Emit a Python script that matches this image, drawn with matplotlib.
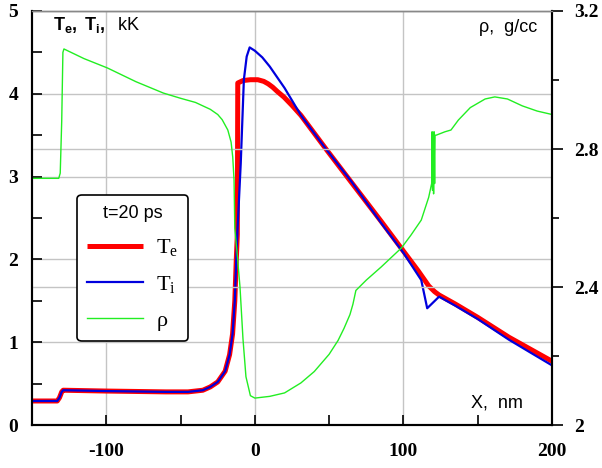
import numpy as np
import matplotlib
matplotlib.use("Agg")
import matplotlib.pyplot as plt
from matplotlib.ticker import MultipleLocator, FixedLocator

plt.rcParams['mathtext.fontset'] = 'custom'
plt.rcParams['mathtext.rm'] = 'Liberation Serif'
plt.rcParams['mathtext.it'] = 'Liberation Serif'
plt.rcParams['mathtext.bf'] = 'Liberation Sans:bold'
plt.rcParams['mathtext.sf'] = 'Liberation Sans'

# electron temperature, kK
x_te = [-150, -133, -131.5, -130, -129, -100, -60, -45, -35, -30, -25, -20, -17, -15,
        -13.5, -12.5, -11.8, -11.5, -8, -3, 2, 6, 9, 12, 15, 19.6, 25, 31, 48, 65, 85, 100,
        110, 117, 121, 124, 135, 150, 171, 185, 200]
te = [0.29, 0.29, 0.33, 0.40, 0.42, 0.41, 0.40, 0.40, 0.42, 0.46, 0.52, 0.65, 0.85, 1.1,
      1.5, 2.0, 2.3, 4.13, 4.16, 4.17, 4.17, 4.15, 4.12, 4.08, 4.03, 3.96, 3.86, 3.74, 3.33,
      2.93, 2.46, 2.10, 1.86, 1.68, 1.61, 1.57, 1.46, 1.30, 1.06, 0.92, 0.77]

# ion temperature, kK
x_ti = [-150, -133, -131.5, -130, -129, -100, -60, -45, -35, -30, -25, -20, -17, -15,
        -13.5, -12.5, -11.7, -9.5, -7.4, -5.5, -3.5, 0, 5, 10, 20, 31, 48, 65, 85, 100,
        112, 116, 124, 135, 150, 171, 185, 200]
ti = [0.29, 0.29, 0.33, 0.40, 0.42, 0.41, 0.40, 0.40, 0.42, 0.46, 0.52, 0.65, 0.85, 1.1,
      1.5, 2.0, 2.35, 3.16, 4.17, 4.45, 4.56, 4.52, 4.44, 4.33, 4.07, 3.74, 3.33, 2.94, 2.44,
      2.08, 1.75, 1.41, 1.55, 1.44, 1.28, 1.03, 0.88, 0.72]

# density, g/cc
x_rho = [-150, -132, -131, -130, -129.2, -128.5, -115, -99.3, -80, -61.5, -50, -40, -30, -25,
         -22, -18.2, -16, -14.9, -14, -13.5, -12, -10, -8, -6, -3, 0, 10, 20, 31, 40, 50, 56,
         60, 64, 66, 68, 75, 85, 98.6, 105, 112, 117, 119, 119.3, 119.6, 120, 120.3, 120.6,
         121, 121.3, 122, 125, 128, 132, 137, 145, 155, 161.5, 170, 180, 190, 200]
rho = [2.715, 2.715, 2.73, 2.88, 3.08, 3.09, 3.062, 3.035, 2.995, 2.962, 2.947, 2.935, 2.915,
       2.90, 2.885, 2.855, 2.82, 2.777, 2.71, 2.57, 2.50, 2.40, 2.25, 2.14, 2.085, 2.078,
       2.083, 2.093, 2.122, 2.155, 2.205, 2.245, 2.28, 2.32, 2.35, 2.39, 2.42, 2.458, 2.513,
       2.55, 2.594, 2.66, 2.70, 2.85, 2.68, 2.84, 2.67, 2.85, 2.70, 2.84, 2.84, 2.845, 2.85,
       2.855, 2.884, 2.92, 2.945, 2.951, 2.945, 2.925, 2.91, 2.90]

fig = plt.figure(figsize=(6.02, 4.68), dpi=100)
ax = fig.add_axes([32 / 602, 43 / 468, 520 / 602, 414 / 468])
ax2 = ax.twinx()

grid_c = '#c4c4c4'
for yv in range(0, 6):
    ax.axhline(yv, color=grid_c, lw=1, zorder=0)
for xv in [-100, 0, 100]:
    ax.axvline(xv, color=grid_c, lw=1, zorder=0)
for rv in [2.4, 2.8]:
    ax2.axhline(rv, color=grid_c, lw=1, zorder=0)

l_te, = ax.plot(x_te, te, color='#ff0000', lw=3.6, solid_capstyle='butt', zorder=3)
l_ti, = ax.plot(x_ti, ti, color='#0000dd', lw=1.6, zorder=4)
l_rho, = ax2.plot(x_rho, rho, color='#22ee22', lw=1.0, zorder=2)

ax.set_xlim(-150, 200)
ax.set_ylim(0, 5)
ax2.set_ylim(2, 3.2)

tick_font = dict(family='Liberation Serif', weight='bold', size=14)
ax.xaxis.set_minor_locator(MultipleLocator(50))
ax.yaxis.set_minor_locator(MultipleLocator(0.5))
ax.set_xticks([-100, 0, 100, 200])
ax.set_xticklabels(['-100', '0', '100', '200'], **tick_font)
ax.set_yticks([0, 1, 2, 3, 4, 5])
ax.set_yticklabels(['0', '1', '2', '3', '4', '5'], **tick_font)
ax.tick_params(axis='both', which='both', direction='in', length=7, width=1.2)
ax.tick_params(axis='x', pad=13)
ax.tick_params(axis='y', pad=10)

ax2.set_yticks([2, 2.4, 2.8, 3.2])
ax2.set_yticklabels(['2', '2.4', '2.8', '3.2'], **tick_font)
ax2.yaxis.set_minor_locator(FixedLocator([2.2, 2.6, 3.0]))
ax2.tick_params(axis='y', which='major', direction='out', length=8, width=1.2, pad=8)
ax2.tick_params(axis='y', which='minor', direction='out', length=5, width=1.2)

for a in (ax, ax2):
    for s in ['left', 'bottom', 'right']:
        a.spines[s].set_linewidth(1.5)
    a.spines['top'].set_color('#888888')
    a.spines['top'].set_linewidth(1.0)

ax.text(0.04, 0.966, r'$\mathbf{T_e,\ T_i,}$  kK', transform=ax.transAxes,
        fontsize=13, family='Liberation Sans', va='center', ha='left')
ax.text(0.971, 0.959, 'ρ,  g/cc', transform=ax.transAxes, fontsize=13,
        family='Liberation Sans', va='center', ha='right')
ax.text(0.944, 0.053, 'X,  nm', transform=ax.transAxes, fontsize=13,
        family='Liberation Sans', va='center', ha='right')

leg = ax2.legend([l_te, l_ti, l_rho], [r'$\mathrm{T_e}$', r'$\mathrm{T_i}$', 'ρ'],
                 title='t=20 ps', loc='upper left', bbox_to_anchor=(0.087, 0.556),
                 borderaxespad=0, fancybox=True, framealpha=1, edgecolor='black',
                 prop={'family': 'Liberation Serif', 'size': 16},
                 title_fontproperties={'family': 'Liberation Sans', 'size': 13},
                 handlelength=2.5, labelspacing=0.7, borderpad=0.45, handletextpad=0.6)
leg.get_frame().set_linewidth(1.2)
leg.set_zorder(10)

fig.savefig('out.png', dpi=100)
